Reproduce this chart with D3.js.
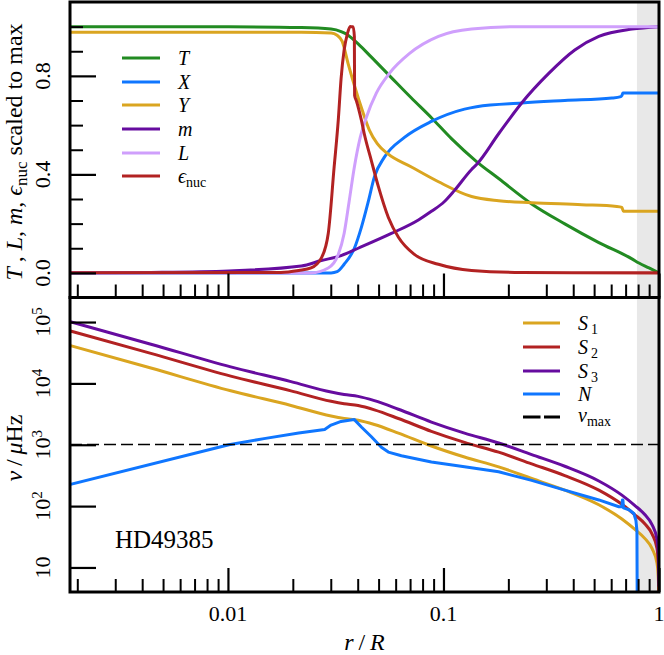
<!DOCTYPE html>
<html><head><meta charset="utf-8">
<script src="https://cdn.jsdelivr.net/npm/d3@7"></script>
<style>
body{margin:0;background:#fff}
svg{display:block}
</style>
</head><body>
<svg id="chart" width="664" height="655" style="font-family:'Liberation Serif','DejaVu Serif',serif"></svg>
<script>
// ---------------- data ----------------
// top panel: quantities scaled to their maximum vs r/R
const rT = [0.00184,0.0101,0.0219,0.0301,0.0335,0.0354,0.0373,0.0402,0.0463,0.0573,0.0710,0.0879,0.1089,0.1424,0.1803,0.2566,0.3654,0.5258,0.7489,0.8072,0.8986,1.0];
const T  = [1.0,0.999,0.996,0.99,0.98,0.97,0.955,0.93,0.876,0.793,0.71,0.63,0.545,0.452,0.383,0.28,0.199,0.123,0.057,0.04,0.02,0.0];

const rX = [0.00184,0.0301,0.0321,0.0346,0.0386,0.0416,0.0448,0.0478,0.0532,0.0659,0.0879,0.1252,0.1424,0.2306,0.3654,0.6045,0.6656,0.6727,0.6801,1.0];
const X  = [0.0,0.0,0.005,0.035,0.10,0.185,0.29,0.39,0.47,0.55,0.615,0.665,0.675,0.69,0.70,0.71,0.716,0.72,0.73,0.73];

const rY = [0.00184,0.0219,0.0301,0.0321,0.0339,0.0361,0.0388,0.0420,0.0453,0.0493,0.0549,0.0710,0.0948,0.1350,0.1803,0.2566,0.4384,0.6377,0.6727,0.6837,1.0];
const Y  = [0.977,0.977,0.974,0.965,0.94,0.85,0.755,0.66,0.58,0.525,0.485,0.43,0.37,0.31,0.293,0.285,0.277,0.27,0.266,0.25,0.25];

const rM = [0.00184,0.0044,0.0101,0.0219,0.0271,0.0335,0.0402,0.0573,0.0765,0.0879,0.1011,0.1125,0.1350,0.1424,0.1803,0.2306,0.3079,0.4067,0.5258,0.7489,1.0];
const M  = [0.0,0.002,0.008,0.028,0.05,0.07,0.10,0.16,0.215,0.25,0.29,0.335,0.42,0.44,0.565,0.69,0.81,0.905,0.96,0.99,1.0];

const rL = [0.00184,0.0243,0.0292,0.0325,0.0346,0.0365,0.0386,0.0411,0.0438,0.0488,0.0561,0.0694,0.0948,0.1350,0.2306,1.0];
const Lum= [0.0,0.0,0.02,0.075,0.16,0.29,0.43,0.55,0.63,0.73,0.81,0.89,0.96,0.99,1.0,1.0];

const rE = [0.00184,0.0176,0.0213,0.0243,0.0271,0.0292,0.0311,0.0325,0.0335,0.0346,0.0358,0.0369,0.0381,0.0386,0.0387,0.0394,0.0416,0.0429,0.0463,0.0499,0.0555,0.0618,0.0733,0.0948,0.1350,0.2306,1.0];
const Enuc=[0.0,0.002,0.01,0.02,0.06,0.16,0.43,0.62,0.79,0.905,0.97,1.0,1.0,0.96,0.72,0.70,0.62,0.565,0.455,0.35,0.225,0.145,0.075,0.035,0.01,0.002,0.0];

// bottom panel: characteristic frequencies (muHz) vs r/R
const rS = [0.00184,0.00439,0.0103,0.0196,0.0301,0.0346,0.0402,0.0478,0.0618,0.0879,0.1252,0.1803,0.2566,0.3654,0.5258,0.6727,0.7733,0.861,0.928,0.979,0.995,1.0];
const S1 = [41700,17800,7590,4370,2950,2690,2510,2140,1550,955,631,437,282,182,105,61.7,41.7,29.5,20.4,11.7,5.5,2.0];
const S2 = [72200,30800,13140,7560,5110,4660,4350,3700,2680,1654,1093,757,488,315,182,107,72.2,51.1,35.3,20.3,9.5,3.5];
const S3 = [102100,43550,18580,10690,7230,6590,6150,5240,3790,2340,1545,1070,691,446,257,151,102,72.2,50.0,28.7,13.5,4.9];

const rN = [0.00184,0.0101,0.0147,0.0213,0.0281,0.0301,0.0335,0.0365,0.0386,0.0416,0.0463,0.0515,0.0555,0.0638,0.0879,0.1252,0.1803,0.2566,0.3654,0.5258,0.6515,0.6727,0.6764,0.6801,0.684,0.7253,0.7645,0.7813,0.790,0.7925];
const N  = [224,1000,1259,1549,1778,2089,2399,2512,2570,1950,1349,912,759,661,525,437,363,263,182,126,97.7,97.7,126,126,93.3,87.1,75.9,58.9,39.8,2.0];

const nuMax = 1010;
const rConv = 0.79;   // base of the convective envelope (shaded)

const xTickMajor = [0.01, 0.1, 1];
const xTickLabels = ["0.01", "0.1", "1"];
const yTopMajor = [0.0, 0.4, 0.8];
const yTopLabels = ["0.0", "0.4", "0.8"];
const yTopMinor = [0.1,0.2,0.3,0.5,0.6,0.7,0.9,1.0];
const yBotMajor = [10, 100, 1000, 10000, 100000];
const yBotExp = ["", "2", "3", "4", "5"];

const topSeries = [
  {name:"T", r:rT, v:T,   color:"#228b22"},
  {name:"X", r:rX, v:X,   color:"#0f76ff"},
  {name:"Y", r:rY, v:Y,   color:"#daa520"},
  {name:"m", r:rM, v:M,   color:"#660c9f"},
  {name:"L", r:rL, v:Lum, color:"#cf9ffc"},
  {name:"eps", r:rE, v:Enuc, color:"#b22222"}
];
const botSeries = [
  {name:"S", sub:"1", r:rS, v:S1, color:"#daa520"},
  {name:"S", sub:"2", r:rS, v:S2, color:"#b22222"},
  {name:"S", sub:"3", r:rS, v:S3, color:"#660c9f"},
  {name:"N", sub:"",  r:rN, v:N,  color:"#0f76ff"}
];

// ---------------- layout ----------------
const FONT = "'Liberation Serif','DejaVu Serif',serif";
const L = 70, R = 659, TOP = 2, MID = 297.5, BOT = 592;
const svg = d3.select("#chart");

const x = d3.scaleLog().domain([0.00185, 1]).range([L, R]);
const yT = d3.scaleLinear().domain([-0.1, 1.1]).range([MID, TOP]);
const yB = d3.scaleLog().domain([Math.pow(10,0.6), Math.pow(10,5.4)]).range([BOT, MID]);

const defs = svg.append("defs");
defs.append("clipPath").attr("id","clipTop").append("rect")
  .attr("x",L).attr("y",TOP).attr("width",R-L).attr("height",MID-TOP);
defs.append("clipPath").attr("id","clipBot").append("rect")
  .attr("x",L).attr("y",MID).attr("width",R-L).attr("height",BOT-MID);

// shaded convective envelope
svg.append("rect").attr("x", x(rConv)).attr("y", TOP)
  .attr("width", x(1)-x(rConv)).attr("height", BOT-TOP).attr("fill","#e8e8e8");

// ---------------- top panel lines ----------------
const gTop = svg.append("g").attr("clip-path","url(#clipTop)");
topSeries.forEach(s => {
  const line = d3.line().x((d,i)=>x(s.r[i])).y(d=>yT(d)).curve(d3.curveMonotoneX);
  gTop.append("path").datum(s.v).attr("d", line)
    .attr("fill","none").attr("stroke", s.color).attr("stroke-width",3)
    .attr("stroke-linejoin","round").attr("stroke-linecap","butt");
});

// ---------------- bottom panel lines ----------------
const gBot = svg.append("g").attr("clip-path","url(#clipBot)");
botSeries.forEach(s => {
  const line = d3.line().x((d,i)=>x(s.r[i])).y(d=>yB(d)).curve(s.name==="N"? d3.curveLinear : d3.curveMonotoneX);
  gBot.append("path").datum(s.v).attr("d", line)
    .attr("fill","none").attr("stroke", s.color).attr("stroke-width",3)
    .attr("stroke-linejoin","round");
});
gBot.append("line").attr("x1",L).attr("x2",R).attr("y1",yB(nuMax)).attr("y2",yB(nuMax))
  .attr("stroke","#000").attr("stroke-width",1.5).attr("stroke-dasharray","12,5");

// ---------------- axes (ticks inward) ----------------
const xMinor = [];
[0.001,0.01,0.1].forEach(d=>{ for(let k=2;k<=9;k++){ const v=d*k; if(v>=0.00185 && v<1) xMinor.push(v);} });

function xTicks(yPos){
  svg.append("g").attr("transform",`translate(0,${yPos})`)
    .call(d3.axisBottom(x).tickValues(xTickMajor).tickSizeInner(-24).tickSizeOuter(0).tickFormat(""))
    .call(g=>{g.select(".domain").remove(); g.selectAll("line").attr("stroke-width",2.2);});
  svg.append("g").attr("transform",`translate(0,${yPos})`)
    .call(d3.axisBottom(x).tickValues(xMinor).tickSizeInner(-13).tickSizeOuter(0).tickFormat(""))
    .call(g=>{g.select(".domain").remove(); g.selectAll("line").attr("stroke-width",2);});
}
xTicks(MID);
xTicks(BOT);

svg.append("g").attr("transform",`translate(${L},0)`)
  .call(d3.axisLeft(yT).tickValues(yTopMajor).tickSizeInner(-26).tickSizeOuter(0).tickFormat(""))
  .call(g=>{g.select(".domain").remove(); g.selectAll("line").attr("stroke-width",2.2);});
svg.append("g").attr("transform",`translate(${L},0)`)
  .call(d3.axisLeft(yT).tickValues(yTopMinor).tickSizeInner(-13).tickSizeOuter(0).tickFormat(""))
  .call(g=>{g.select(".domain").remove(); g.selectAll("line").attr("stroke-width",2);});
svg.append("g").attr("transform",`translate(${L},0)`)
  .call(d3.axisLeft(yB).tickValues(yBotMajor).tickSizeInner(-26).tickSizeOuter(0).tickFormat(""))
  .call(g=>{g.select(".domain").remove(); g.selectAll("line").attr("stroke-width",2.2);});

// frames
svg.append("rect").attr("x",L).attr("y",TOP).attr("width",R-L).attr("height",MID-TOP)
  .attr("fill","none").attr("stroke","#000").attr("stroke-width",3);
svg.append("rect").attr("x",L).attr("y",MID).attr("width",R-L).attr("height",BOT-MID)
  .attr("fill","none").attr("stroke","#000").attr("stroke-width",3);

function txt(){ return svg.append("text").attr("font-family",FONT).attr("fill","#000"); }

// ---------------- tick labels ----------------
xTickMajor.forEach((v,i)=>{
  txt().attr("x",x(v)).attr("y",621).attr("text-anchor","middle")
    .attr("font-size",22).text(xTickLabels[i]);
});
yTopMajor.forEach((v,i)=>{
  const yy = yT(v);
  txt().attr("transform",`translate(50,${yy}) rotate(-90)`)
    .attr("text-anchor","middle").attr("font-size",22).text(yTopLabels[i]);
});
yBotMajor.forEach((v,i)=>{
  const yy = yB(v);
  const t = txt().attr("transform",`translate(50,${yy}) rotate(-90)`)
    .attr("text-anchor","middle").attr("font-size",22);
  t.append("tspan").text("10");
  if(yBotExp[i]) t.append("tspan").attr("dy",-8).attr("font-size",15).text(yBotExp[i]);
});

// ---------------- axis labels ----------------
const yl1 = txt().attr("transform",`translate(21.5,152) rotate(-90)`)
  .attr("text-anchor","middle").attr("font-size",24);
yl1.append("tspan").attr("font-style","italic").text("T");
yl1.append("tspan").text("\u2009, ");
yl1.append("tspan").attr("font-style","italic").text("L");
yl1.append("tspan").text(", ");
yl1.append("tspan").attr("font-style","italic").text("m");
yl1.append("tspan").text(", ");
yl1.append("tspan").attr("font-style","italic").text("\u03f5");
yl1.append("tspan").attr("font-size",17).attr("dy",5).text("nuc");
yl1.append("tspan").attr("dy",-5).text(" scaled to max");

const yl2 = txt().attr("transform",`translate(22,448) rotate(-90)`)
  .attr("text-anchor","middle").attr("font-size",24);
yl2.append("tspan").attr("font-style","italic").text("\u03bd");
yl2.append("tspan").text("\u2009/\u2009");
yl2.append("tspan").attr("font-style","italic").text("\u03bc");
yl2.append("tspan").text("Hz");

const xl = txt().attr("x",(L+R)/2).attr("y",650).attr("text-anchor","middle").attr("font-size",24);
xl.append("tspan").attr("font-style","italic").text("r");
xl.append("tspan").text("\u2009/\u2009");
xl.append("tspan").attr("font-style","italic").text("R");

txt().attr("x",115).attr("y",548).attr("font-size",25).text("HD49385");

// ---------------- legends ----------------
const legTopY = [58, 82, 105, 129, 153, 176];
topSeries.forEach((s,i)=>{
  const yy = legTopY[i];
  svg.append("line").attr("x1",122).attr("x2",160).attr("y1",yy).attr("y2",yy)
    .attr("stroke",s.color).attr("stroke-width",3);
  const t = txt().attr("x",178).attr("y",yy+7).attr("font-size",20);
  if(s.name==="eps"){
    t.append("tspan").attr("font-style","italic").text("\u03f5");
    t.append("tspan").attr("font-size",14).attr("dy",4).text("nuc");
  } else {
    t.append("tspan").attr("font-style","italic").text(s.name);
  }
});

const legBotY = [323, 347, 371, 394, 417];
botSeries.forEach((s,i)=>{
  const yy = legBotY[i];
  svg.append("line").attr("x1",523).attr("x2",560).attr("y1",yy).attr("y2",yy)
    .attr("stroke",s.color).attr("stroke-width",3);
  const t = txt().attr("x",578).attr("y",yy+7).attr("font-size",20);
  t.append("tspan").attr("font-style","italic").text(s.name);
  if(s.sub) t.append("tspan").attr("font-size",14).attr("dx",3).attr("dy",4).text(s.sub);
});
{
  const yy = legBotY[4];
  svg.append("line").attr("x1",523).attr("x2",560).attr("y1",yy).attr("y2",yy)
    .attr("stroke","#000").attr("stroke-width",3).attr("stroke-dasharray","17.5,3.5");
  const t = txt().attr("x",578).attr("y",yy+5).attr("font-size",20);
  t.append("tspan").attr("font-style","italic").text("\u03bd");
  t.append("tspan").attr("font-size",14).attr("dy",4).text("max");
}
</script>
</body></html>
